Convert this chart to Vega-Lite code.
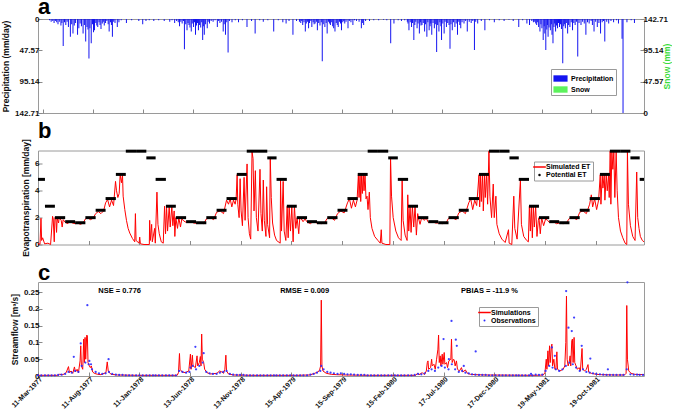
{
"$schema": "https://vega.github.io/schema/vega-lite/v6.json",
"background": "white",
"padding": {"left": 1, "top": -5, "right": 0, "bottom": 0},
"spacing": 37.5,
"bounds": "flush",
"resolve": {"scale": {"color": "independent"}, "legend": {"color": "independent"}},
"config": {
 "font": "Liberation Sans",
 "view": {"stroke": "#9a9a9a"},
 "axis": {"domain": false, "grid": false, "labelFont": "Liberation Sans", "labelFontWeight": "bold", "labelFontSize": 8, "labelColor": "#111", "titleFont": "Liberation Sans", "titleFontWeight": "bold", "titleFontSize": 8.5, "titleColor": "#111", "tickColor": "#8a8a8a", "tickSize": -4, "labelPadding": 3, "titlePadding": 4},
 "legend": {"labelFont": "Liberation Sans", "labelFontWeight": "bold", "labelFontSize": 7, "labelColor": "#000", "strokeColor": "#9a9a9a", "fillColor": "#ffffff", "padding": 2, "rowPadding": 0, "labelOffset": 3},
 "title": {"font": "Liberation Sans", "fontSize": 22, "fontWeight": "bold", "anchor": "start", "offset": -4, "baseline": "alphabetic", "frame": "group", "color": "#000"}
},
"datasets": {
 "p": [
  {"d":"1977-03-31","v":2},{"d":"1977-04-05","v":4},{"d":"1977-04-10","v":3},{"d":"1977-04-14","v":6},{"d":"1977-04-18","v":3},{"d":"1977-04-22","v":5},{"d":"1977-04-26","v":8},{"d":"1977-04-30","v":4},{"d":"1977-05-05","v":10},{"d":"1977-05-08","v":6},{"d":"1977-05-12","v":41},{"d":"1977-05-16","v":5},{"d":"1977-05-20","v":9},{"d":"1977-05-24","v":4},{"d":"1977-05-28","v":12},{"d":"1977-06-03","v":27},{"d":"1977-06-07","v":8},{"d":"1977-06-11","v":22},{"d":"1977-06-15","v":10},{"d":"1977-06-19","v":6},{"d":"1977-06-25","v":24},{"d":"1977-06-29","v":14},{"d":"1977-07-03","v":7},{"d":"1977-07-07","v":11},{"d":"1977-07-12","v":22},{"d":"1977-07-16","v":9},{"d":"1977-07-20","v":34},{"d":"1977-07-24","v":12},{"d":"1977-07-27","v":16},{"d":"1977-07-30","v":60},{"d":"1977-08-02","v":14},{"d":"1977-08-06","v":37},{"d":"1977-08-10","v":8},{"d":"1977-08-13","v":20},{"d":"1977-08-16","v":17},{"d":"1977-08-20","v":6},{"d":"1977-08-23","v":10},{"d":"1977-08-26","v":12},{"d":"1977-08-30","v":5},{"d":"1977-09-02","v":9},{"d":"1977-09-05","v":15},{"d":"1977-09-09","v":7},{"d":"1977-09-12","v":4},{"d":"1977-09-15","v":10},{"d":"1977-09-19","v":6},{"d":"1977-09-23","v":3},{"d":"1977-09-27","v":8},{"d":"1977-09-30","v":19},{"d":"1977-10-04","v":5},{"d":"1977-10-07","v":9},{"d":"1977-10-10","v":27},{"d":"1977-10-14","v":4},{"d":"1977-10-18","v":6},{"d":"1977-10-25","v":12},{"d":"1977-10-30","v":5},{"d":"1977-11-06","v":2},{"d":"1977-11-22","v":6},{"d":"1977-12-08","v":2},{"d":"1977-12-30","v":3},
  {"d":"1978-01-11","v":8},{"d":"1978-01-21","v":3},{"d":"1978-01-31","v":2},{"d":"1978-02-14","v":3},{"d":"1978-03-01","v":2},{"d":"1978-03-18","v":3},{"d":"1978-04-04","v":4},{"d":"1978-04-11","v":2},{"d":"1978-04-19","v":6},{"d":"1978-04-25","v":3},{"d":"1978-04-30","v":5},{"d":"1978-05-04","v":11},{"d":"1978-05-08","v":4},{"d":"1978-05-12","v":7},{"d":"1978-05-16","v":3},{"d":"1978-05-19","v":46},{"d":"1978-05-23","v":8},{"d":"1978-05-27","v":17},{"d":"1978-05-30","v":6},{"d":"1978-06-02","v":9},{"d":"1978-06-05","v":13},{"d":"1978-06-09","v":19},{"d":"1978-06-12","v":7},{"d":"1978-06-16","v":12},{"d":"1978-06-19","v":5},{"d":"1978-06-22","v":24},{"d":"1978-06-25","v":10},{"d":"1978-06-28","v":6},{"d":"1978-07-01","v":17},{"d":"1978-07-04","v":9},{"d":"1978-07-08","v":13},{"d":"1978-07-11","v":5},{"d":"1978-07-14","v":32},{"d":"1978-07-17","v":11},{"d":"1978-07-19","v":24},{"d":"1978-07-23","v":8},{"d":"1978-07-28","v":14},{"d":"1978-07-31","v":4},{"d":"1978-08-04","v":7},{"d":"1978-08-09","v":3},{"d":"1978-08-15","v":4},{"d":"1978-08-21","v":2},{"d":"1978-08-28","v":12},{"d":"1978-09-01","v":3},{"d":"1978-09-05","v":6},{"d":"1978-09-10","v":4},{"d":"1978-09-15","v":19},{"d":"1978-09-18","v":8},{"d":"1978-09-22","v":24},{"d":"1978-09-26","v":5},{"d":"1978-09-30","v":51},{"d":"1978-10-04","v":3},{"d":"1978-10-12","v":5},{"d":"1978-10-22","v":2},{"d":"1978-11-01","v":5},{"d":"1978-11-13","v":2},{"d":"1978-11-27","v":12},{"d":"1978-12-11","v":3},{"d":"1978-12-22","v":22},
  {"d":"1979-01-05","v":2},{"d":"1979-01-16","v":4},{"d":"1979-01-30","v":2},{"d":"1979-02-17","v":19},{"d":"1979-03-03","v":2},{"d":"1979-03-17","v":5},{"d":"1979-03-27","v":7},{"d":"1979-04-05","v":3},{"d":"1979-04-17","v":24},{"d":"1979-04-28","v":3},{"d":"1979-05-07","v":4},{"d":"1979-05-11","v":6},{"d":"1979-05-14","v":3},{"d":"1979-05-17","v":9},{"d":"1979-05-21","v":5},{"d":"1979-05-25","v":19},{"d":"1979-05-28","v":7},{"d":"1979-06-01","v":4},{"d":"1979-06-04","v":14},{"d":"1979-06-07","v":6},{"d":"1979-06-11","v":3},{"d":"1979-06-14","v":12},{"d":"1979-06-18","v":5},{"d":"1979-06-21","v":8},{"d":"1979-06-24","v":7},{"d":"1979-06-28","v":4},{"d":"1979-07-01","v":17},{"d":"1979-07-05","v":6},{"d":"1979-07-09","v":10},{"d":"1979-07-13","v":5},{"d":"1979-07-16","v":64},{"d":"1979-07-19","v":8},{"d":"1979-07-24","v":12},{"d":"1979-07-28","v":6},{"d":"1979-07-31","v":22},{"d":"1979-08-04","v":4},{"d":"1979-08-07","v":7},{"d":"1979-08-10","v":9},{"d":"1979-08-14","v":5},{"d":"1979-08-17","v":11},{"d":"1979-08-20","v":14},{"d":"1979-08-24","v":19},{"d":"1979-08-28","v":6},{"d":"1979-08-31","v":9},{"d":"1979-09-03","v":12},{"d":"1979-09-07","v":4},{"d":"1979-09-10","v":7},{"d":"1979-09-13","v":17},{"d":"1979-09-17","v":5},{"d":"1979-09-20","v":3},{"d":"1979-09-23","v":7},{"d":"1979-09-27","v":4},{"d":"1979-10-03","v":14},{"d":"1979-10-07","v":3},{"d":"1979-10-12","v":5},{"d":"1979-10-18","v":9},{"d":"1979-10-23","v":2},{"d":"1979-10-29","v":3},{"d":"1979-11-06","v":4},{"d":"1979-11-13","v":14},{"d":"1979-11-17","v":6},{"d":"1979-11-20","v":9},{"d":"1979-11-26","v":3},{"d":"1979-12-08","v":3},{"d":"1979-12-21","v":2},
  {"d":"1980-01-05","v":2},{"d":"1980-01-20","v":1},{"d":"1980-01-30","v":2},{"d":"1980-02-11","v":37},{"d":"1980-02-21","v":7},{"d":"1980-03-05","v":2},{"d":"1980-03-15","v":3},{"d":"1980-03-25","v":2},{"d":"1980-04-02","v":4},{"d":"1980-04-04","v":7},{"d":"1980-04-07","v":17},{"d":"1980-04-11","v":5},{"d":"1980-04-15","v":12},{"d":"1980-04-18","v":6},{"d":"1980-04-22","v":32},{"d":"1980-04-25","v":9},{"d":"1980-04-28","v":4},{"d":"1980-05-02","v":14},{"d":"1980-05-05","v":7},{"d":"1980-05-09","v":22},{"d":"1980-05-12","v":5},{"d":"1980-05-14","v":10},{"d":"1980-05-17","v":9},{"d":"1980-05-21","v":6},{"d":"1980-05-25","v":19},{"d":"1980-05-28","v":8},{"d":"1980-06-01","v":27},{"d":"1980-06-04","v":5},{"d":"1980-06-08","v":17},{"d":"1980-06-11","v":11},{"d":"1980-06-13","v":7},{"d":"1980-06-16","v":24},{"d":"1980-06-20","v":6},{"d":"1980-06-24","v":14},{"d":"1980-06-27","v":8},{"d":"1980-07-01","v":50},{"d":"1980-07-04","v":9},{"d":"1980-07-08","v":19},{"d":"1980-07-11","v":5},{"d":"1980-07-14","v":11},{"d":"1980-07-16","v":32},{"d":"1980-07-20","v":7},{"d":"1980-07-24","v":22},{"d":"1980-07-27","v":4},{"d":"1980-07-31","v":12},{"d":"1980-08-04","v":6},{"d":"1980-08-08","v":9},{"d":"1980-08-11","v":45},{"d":"1980-08-14","v":8},{"d":"1980-08-18","v":17},{"d":"1980-08-22","v":5},{"d":"1980-08-26","v":12},{"d":"1980-08-30","v":7},{"d":"1980-09-03","v":24},{"d":"1980-09-07","v":4},{"d":"1980-09-10","v":9},{"d":"1980-09-13","v":14},{"d":"1980-09-17","v":5},{"d":"1980-09-23","v":7},{"d":"1980-09-28","v":3},{"d":"1980-10-03","v":19},{"d":"1980-10-09","v":4},{"d":"1980-10-15","v":6},{"d":"1980-10-20","v":3},{"d":"1980-10-25","v":47},{"d":"1980-10-29","v":4},{"d":"1980-11-04","v":7},{"d":"1980-11-15","v":3},{"d":"1980-11-26","v":17},{"d":"1980-12-10","v":2},{"d":"1980-12-25","v":5},
  {"d":"1981-01-09","v":2},{"d":"1981-01-24","v":3},{"d":"1981-02-08","v":1},{"d":"1981-02-21","v":3},{"d":"1981-03-10","v":12},{"d":"1981-03-22","v":2},{"d":"1981-04-04","v":7},{"d":"1981-04-12","v":9},{"d":"1981-04-19","v":3},{"d":"1981-04-24","v":5},{"d":"1981-04-28","v":4},{"d":"1981-05-01","v":7},{"d":"1981-05-04","v":9},{"d":"1981-05-07","v":5},{"d":"1981-05-10","v":12},{"d":"1981-05-14","v":19},{"d":"1981-05-17","v":8},{"d":"1981-05-20","v":14},{"d":"1981-05-24","v":32},{"d":"1981-05-27","v":11},{"d":"1981-05-29","v":22},{"d":"1981-06-01","v":47},{"d":"1981-06-04","v":16},{"d":"1981-06-06","v":9},{"d":"1981-06-08","v":27},{"d":"1981-06-11","v":13},{"d":"1981-06-15","v":17},{"d":"1981-06-18","v":8},{"d":"1981-06-20","v":24},{"d":"1981-06-23","v":37},{"d":"1981-06-26","v":12},{"d":"1981-06-28","v":7},{"d":"1981-07-01","v":19},{"d":"1981-07-04","v":10},{"d":"1981-07-07","v":14},{"d":"1981-07-10","v":6},{"d":"1981-07-13","v":12},{"d":"1981-07-16","v":8},{"d":"1981-07-19","v":15},{"d":"1981-07-23","v":67},{"d":"1981-07-26","v":11},{"d":"1981-07-28","v":8},{"d":"1981-07-31","v":14},{"d":"1981-08-03","v":6},{"d":"1981-08-07","v":22},{"d":"1981-08-10","v":9},{"d":"1981-08-14","v":12},{"d":"1981-08-18","v":5},{"d":"1981-08-22","v":17},{"d":"1981-08-26","v":6},{"d":"1981-08-30","v":9},{"d":"1981-09-03","v":4},{"d":"1981-09-07","v":57},{"d":"1981-09-11","v":6},{"d":"1981-09-17","v":9},{"d":"1981-09-22","v":4},{"d":"1981-09-27","v":7},{"d":"1981-10-02","v":24},{"d":"1981-10-07","v":5},{"d":"1981-10-12","v":7},{"d":"1981-10-18","v":3},{"d":"1981-10-22","v":9},{"d":"1981-10-27","v":19},{"d":"1981-11-01","v":4},{"d":"1981-11-06","v":12},{"d":"1981-11-11","v":6},{"d":"1981-11-16","v":22},{"d":"1981-11-21","v":5},{"d":"1981-11-25","v":3},{"d":"1981-11-29","v":34},{"d":"1981-12-05","v":4},{"d":"1981-12-11","v":7},{"d":"1981-12-18","v":3},{"d":"1981-12-26","v":5},
  {"d":"1982-01-04","v":2},{"d":"1982-01-10","v":7},{"d":"1982-01-21","v":30},{"d":"1982-01-24","v":142.71},{"d":"1982-02-05","v":5},{"d":"1982-02-18","v":2},{"d":"1982-02-28","v":6}
 ],
 "s": [{"d":"1977-06-01","v":0},{"d":"1980-06-01","v":0}],
 "et": [
  {"d":"1977-03-11","v":0.1},{"d":"1977-03-17","v":0},{"d":"1977-03-20","v":1.95},{"d":"1977-03-22","v":0.3},{"d":"1977-03-25","v":0.5},{"d":"1977-03-31","v":0.05},{"d":"1977-04-10","v":0.1},{"d":"1977-04-18","v":0},{"d":"1977-04-24","v":2.1},{"d":"1977-04-26","v":1.9},{"d":"1977-04-29","v":0.2},{"d":"1977-05-01","v":2.0},{"d":"1977-05-04","v":1.9},{"d":"1977-05-06","v":0.9},{"d":"1977-05-08","v":1.95},{"d":"1977-05-12","v":1.6},{"d":"1977-05-14","v":2.0},{"d":"1977-05-20","v":1.8},{"d":"1977-05-23","v":1.3},{"d":"1977-05-26","v":1.85},{"d":"1977-06-01","v":1.65},{"d":"1977-06-09","v":1.55},{"d":"1977-06-15","v":1.7},{"d":"1977-06-23","v":1.6},{"d":"1977-07-01","v":1.55},{"d":"1977-07-09","v":1.6},{"d":"1977-07-17","v":1.5},{"d":"1977-07-25","v":1.6},{"d":"1977-08-01","v":1.9},{"d":"1977-08-08","v":2.0},{"d":"1977-08-16","v":1.85},{"d":"1977-08-24","v":1.95},{"d":"1977-09-01","v":2.3},{"d":"1977-09-09","v":2.45},{"d":"1977-09-17","v":2.3},{"d":"1977-09-25","v":2.5},{"d":"1977-10-01","v":3.1},{"d":"1977-10-07","v":3.35},{"d":"1977-10-13","v":2.8},{"d":"1977-10-19","v":3.3},{"d":"1977-10-25","v":2.9},{"d":"1977-10-31","v":4.7},{"d":"1977-11-03","v":4.0},{"d":"1977-11-07","v":3.5},{"d":"1977-11-11","v":3.8},{"d":"1977-11-14","v":5.2},{"d":"1977-11-18","v":4.6},{"d":"1977-11-21","v":5.2},{"d":"1977-11-23","v":3.6},{"d":"1977-11-28","v":2.6},{"d":"1977-12-03","v":1.8},{"d":"1977-12-08","v":1.2},{"d":"1977-12-13","v":0.85},{"d":"1977-12-21","v":0.45},{"d":"1977-12-28","v":0.2},{"d":"1977-12-30","v":2.3},
  {"d":"1978-01-01","v":0.3},{"d":"1978-01-10","v":0.1},{"d":"1978-01-12","v":0.55},{"d":"1978-01-14","v":0.05},{"d":"1978-01-25","v":0},{"d":"1978-02-10","v":0},{"d":"1978-02-11","v":1.8},{"d":"1978-02-13","v":0.3},{"d":"1978-02-17","v":1.5},{"d":"1978-02-19","v":0.2},{"d":"1978-02-26","v":1.2},{"d":"1978-02-28","v":0.1},{"d":"1978-03-05","v":3.9},{"d":"1978-03-08","v":1.5},{"d":"1978-03-12","v":0.8},{"d":"1978-03-18","v":0.2},{"d":"1978-03-24","v":0.1},{"d":"1978-03-28","v":2.85},{"d":"1978-03-31","v":0.8},{"d":"1978-04-03","v":2.85},{"d":"1978-04-06","v":1.0},{"d":"1978-04-11","v":2.85},{"d":"1978-04-14","v":1.3},{"d":"1978-04-19","v":2.85},{"d":"1978-04-22","v":1.4},{"d":"1978-04-26","v":2.5},{"d":"1978-04-28","v":0.6},{"d":"1978-05-01","v":2.0},{"d":"1978-05-06","v":1.2},{"d":"1978-05-10","v":2.0},{"d":"1978-05-15","v":1.3},{"d":"1978-05-19","v":1.9},{"d":"1978-05-25","v":1.75},{"d":"1978-06-01","v":1.65},{"d":"1978-06-14","v":1.7},{"d":"1978-06-24","v":1.6},{"d":"1978-07-01","v":1.58},{"d":"1978-07-14","v":1.62},{"d":"1978-07-24","v":1.55},{"d":"1978-08-01","v":1.9},{"d":"1978-08-13","v":2.0},{"d":"1978-08-23","v":1.85},{"d":"1978-09-01","v":2.4},{"d":"1978-09-12","v":2.5},{"d":"1978-09-22","v":2.3},{"d":"1978-10-01","v":3.3},{"d":"1978-10-07","v":3.0},{"d":"1978-10-12","v":3.4},{"d":"1978-10-17","v":2.8},{"d":"1978-10-22","v":3.3},{"d":"1978-10-27","v":3.0},{"d":"1978-10-30","v":3.4},{"d":"1978-11-02","v":5.2},{"d":"1978-11-04","v":3.0},{"d":"1978-11-08","v":2.0},{"d":"1978-11-11","v":4.9},{"d":"1978-11-14","v":2.5},{"d":"1978-11-18","v":1.4},{"d":"1978-11-23","v":5.0},{"d":"1978-11-26","v":1.8},{"d":"1978-12-02","v":6.0},{"d":"1978-12-05","v":2.0},{"d":"1978-12-09","v":0.8},{"d":"1978-12-13","v":0.4},{"d":"1978-12-17","v":6.9},{"d":"1978-12-20","v":6.4},{"d":"1978-12-23","v":2.5},{"d":"1978-12-27","v":5.5},{"d":"1978-12-30","v":2.0},
  {"d":"1979-01-04","v":1.0},{"d":"1979-01-10","v":5.6},{"d":"1979-01-13","v":2.3},{"d":"1979-01-17","v":1.0},{"d":"1979-01-20","v":4.8},{"d":"1979-01-23","v":1.8},{"d":"1979-01-28","v":0.6},{"d":"1979-01-30","v":4.3},{"d":"1979-02-02","v":1.5},{"d":"1979-02-08","v":0.5},{"d":"1979-02-10","v":6.5},{"d":"1979-02-13","v":3.5},{"d":"1979-02-17","v":1.6},{"d":"1979-02-23","v":0.7},{"d":"1979-03-01","v":0.3},{"d":"1979-03-12","v":0.1},{"d":"1979-03-13","v":4.8},{"d":"1979-03-16","v":1.0},{"d":"1979-03-21","v":4.7},{"d":"1979-03-24","v":1.0},{"d":"1979-03-29","v":0.3},{"d":"1979-04-02","v":2.85},{"d":"1979-04-05","v":0.5},{"d":"1979-04-08","v":2.85},{"d":"1979-04-12","v":1.0},{"d":"1979-04-16","v":2.8},{"d":"1979-04-20","v":0.2},{"d":"1979-04-24","v":2.85},{"d":"1979-04-28","v":1.2},{"d":"1979-05-02","v":2.0},{"d":"1979-05-07","v":0.8},{"d":"1979-05-10","v":2.0},{"d":"1979-05-15","v":1.9},{"d":"1979-05-20","v":1.7},{"d":"1979-05-26","v":1.9},{"d":"1979-06-01","v":1.68},{"d":"1979-06-11","v":1.55},{"d":"1979-06-19","v":1.7},{"d":"1979-07-01","v":1.6},{"d":"1979-07-14","v":1.55},{"d":"1979-07-24","v":1.62},{"d":"1979-08-01","v":1.95},{"d":"1979-08-13","v":2.0},{"d":"1979-08-23","v":1.8},{"d":"1979-09-01","v":2.3},{"d":"1979-09-11","v":2.5},{"d":"1979-09-21","v":2.35},{"d":"1979-10-01","v":3.1},{"d":"1979-10-07","v":3.4},{"d":"1979-10-13","v":2.7},{"d":"1979-10-19","v":3.3},{"d":"1979-10-25","v":2.8},{"d":"1979-10-30","v":3.3},{"d":"1979-11-03","v":5.2},{"d":"1979-11-05","v":3.5},{"d":"1979-11-08","v":5.2},{"d":"1979-11-10","v":3.2},{"d":"1979-11-13","v":5.2},{"d":"1979-11-15","v":3.8},{"d":"1979-11-18","v":5.2},{"d":"1979-11-20","v":4.0},{"d":"1979-11-23","v":5.2},{"d":"1979-11-26","v":3.4},{"d":"1979-11-29","v":3.6},{"d":"1979-12-02","v":2.6},{"d":"1979-12-06","v":3.9},{"d":"1979-12-09","v":2.0},{"d":"1979-12-14","v":1.2},{"d":"1979-12-22","v":0.6},
  {"d":"1980-01-01","v":0.3},{"d":"1980-01-08","v":0.1},{"d":"1980-01-11","v":1.1},{"d":"1980-01-13","v":0.1},{"d":"1980-01-25","v":0},{"d":"1980-02-06","v":0},{"d":"1980-02-08","v":6.5},{"d":"1980-02-11","v":3.6},{"d":"1980-02-16","v":2.0},{"d":"1980-02-24","v":1.0},{"d":"1980-03-03","v":0.5},{"d":"1980-03-11","v":0.3},{"d":"1980-03-14","v":4.9},{"d":"1980-03-17","v":1.8},{"d":"1980-03-23","v":0.7},{"d":"1980-03-29","v":0.3},{"d":"1980-03-31","v":3.7},{"d":"1980-04-03","v":1.0},{"d":"1980-04-07","v":2.85},{"d":"1980-04-10","v":0.9},{"d":"1980-04-14","v":2.85},{"d":"1980-04-18","v":1.3},{"d":"1980-04-22","v":2.85},{"d":"1980-04-26","v":0.7},{"d":"1980-04-30","v":2.3},{"d":"1980-05-02","v":2.0},{"d":"1980-05-07","v":1.5},{"d":"1980-05-12","v":2.0},{"d":"1980-05-19","v":1.8},{"d":"1980-05-26","v":1.95},{"d":"1980-06-01","v":1.65},{"d":"1980-06-13","v":1.7},{"d":"1980-06-23","v":1.6},{"d":"1980-07-01","v":1.6},{"d":"1980-07-13","v":1.55},{"d":"1980-07-25","v":1.62},{"d":"1980-08-01","v":1.95},{"d":"1980-08-12","v":2.0},{"d":"1980-08-24","v":1.85},{"d":"1980-09-01","v":2.35},{"d":"1980-09-11","v":2.5},{"d":"1980-09-21","v":2.3},{"d":"1980-10-01","v":3.1},{"d":"1980-10-07","v":3.4},{"d":"1980-10-13","v":2.6},{"d":"1980-10-19","v":3.3},{"d":"1980-10-25","v":2.9},{"d":"1980-11-01","v":5.2},{"d":"1980-11-03","v":2.8},{"d":"1980-11-06","v":5.2},{"d":"1980-11-08","v":3.2},{"d":"1980-11-12","v":5.2},{"d":"1980-11-14","v":2.5},{"d":"1980-11-18","v":5.2},{"d":"1980-11-20","v":3.5},{"d":"1980-11-24","v":5.2},{"d":"1980-11-27","v":3.0},{"d":"1980-12-01","v":6.95},{"d":"1980-12-04","v":3.6},{"d":"1980-12-09","v":2.0},{"d":"1980-12-14","v":4.5},{"d":"1980-12-17","v":2.0},{"d":"1980-12-22","v":3.6},{"d":"1980-12-25","v":1.5},
  {"d":"1981-01-01","v":0.8},{"d":"1981-01-09","v":0.4},{"d":"1981-01-19","v":0.15},{"d":"1981-01-29","v":1.1},{"d":"1981-01-31","v":0.1},{"d":"1981-02-08","v":0},{"d":"1981-02-14","v":3.6},{"d":"1981-02-17","v":1.2},{"d":"1981-02-24","v":0.4},{"d":"1981-03-06","v":4.8},{"d":"1981-03-09","v":1.5},{"d":"1981-03-16","v":0.6},{"d":"1981-03-25","v":0.3},{"d":"1981-03-30","v":0.2},{"d":"1981-04-02","v":2.85},{"d":"1981-04-05","v":1.0},{"d":"1981-04-08","v":2.85},{"d":"1981-04-11","v":0.5},{"d":"1981-04-14","v":2.85},{"d":"1981-04-17","v":1.3},{"d":"1981-04-21","v":2.85},{"d":"1981-04-25","v":0.6},{"d":"1981-04-29","v":1.8},{"d":"1981-05-01","v":2.0},{"d":"1981-05-05","v":0.8},{"d":"1981-05-09","v":2.0},{"d":"1981-05-15","v":1.4},{"d":"1981-05-21","v":1.9},{"d":"1981-05-27","v":1.8},{"d":"1981-06-01","v":1.65},{"d":"1981-06-13","v":1.7},{"d":"1981-06-23","v":1.55},{"d":"1981-07-01","v":1.6},{"d":"1981-07-13","v":1.55},{"d":"1981-07-23","v":1.62},{"d":"1981-08-01","v":1.95},{"d":"1981-08-12","v":2.0},{"d":"1981-08-23","v":1.85},{"d":"1981-09-01","v":2.4},{"d":"1981-09-11","v":2.5},{"d":"1981-09-21","v":2.3},{"d":"1981-10-01","v":3.0},{"d":"1981-10-06","v":3.7},{"d":"1981-10-10","v":2.8},{"d":"1981-10-16","v":3.4},{"d":"1981-10-22","v":2.6},{"d":"1981-10-28","v":3.3},{"d":"1981-11-02","v":5.2},{"d":"1981-11-04","v":3.0},{"d":"1981-11-08","v":5.2},{"d":"1981-11-10","v":4.2},{"d":"1981-11-14","v":5.2},{"d":"1981-11-16","v":3.3},{"d":"1981-11-20","v":5.2},{"d":"1981-11-23","v":4.0},{"d":"1981-11-27","v":5.2},{"d":"1981-11-29","v":3.5},{"d":"1981-12-02","v":6.95},{"d":"1981-12-04","v":3.0},{"d":"1981-12-07","v":6.95},{"d":"1981-12-10","v":5.6},{"d":"1981-12-13","v":6.95},{"d":"1981-12-16","v":3.5},{"d":"1981-12-20","v":6.9},{"d":"1981-12-23","v":4.0},{"d":"1981-12-27","v":2.0},
  {"d":"1982-01-02","v":1.0},{"d":"1982-01-09","v":0.5},{"d":"1982-01-16","v":0.1},{"d":"1982-01-21","v":0},{"d":"1982-01-23","v":6.9},{"d":"1982-01-26","v":3.0},{"d":"1982-02-01","v":1.4},{"d":"1982-02-08","v":0.6},{"d":"1982-02-15","v":0.3},{"d":"1982-02-20","v":5.4},{"d":"1982-02-23","v":2.0},{"d":"1982-02-27","v":1.2},{"d":"1982-03-03","v":0.6},{"d":"1982-03-09","v":0.3},{"d":"1982-03-14","v":0.2}
 ],
 "pet": [
  {"d":"1977-03-11","e":"1977-04-01","v":4.85},{"d":"1977-04-01","e":"1977-05-01","v":2.85},{"d":"1977-05-01","e":"1977-06-01","v":2.0},{"d":"1977-06-01","e":"1977-07-01","v":1.7},{"d":"1977-07-01","e":"1977-08-01","v":1.62},{"d":"1977-08-01","e":"1977-09-01","v":2.0},{"d":"1977-09-01","e":"1977-10-01","v":2.55},{"d":"1977-10-01","e":"1977-11-01","v":3.42},{"d":"1977-11-01","e":"1977-12-01","v":5.22},{"d":"1977-12-01","e":"1978-01-01","v":6.95},
  {"d":"1978-01-01","e":"1978-02-01","v":6.95},{"d":"1978-02-01","e":"1978-03-01","v":6.45},{"d":"1978-03-01","e":"1978-04-01","v":4.85},{"d":"1978-04-01","e":"1978-05-01","v":2.85},{"d":"1978-05-01","e":"1978-06-01","v":2.0},{"d":"1978-06-01","e":"1978-07-01","v":1.7},{"d":"1978-07-01","e":"1978-08-01","v":1.62},{"d":"1978-08-01","e":"1978-09-01","v":2.0},{"d":"1978-09-01","e":"1978-10-01","v":2.55},{"d":"1978-10-01","e":"1978-11-01","v":3.42},{"d":"1978-11-01","e":"1978-12-01","v":5.22},{"d":"1978-12-01","e":"1979-01-01","v":6.95},
  {"d":"1979-01-01","e":"1979-02-01","v":6.95},{"d":"1979-02-01","e":"1979-03-01","v":6.45},{"d":"1979-03-01","e":"1979-04-01","v":4.85},{"d":"1979-04-01","e":"1979-05-01","v":2.85},{"d":"1979-05-01","e":"1979-06-01","v":2.0},{"d":"1979-06-01","e":"1979-07-01","v":1.7},{"d":"1979-07-01","e":"1979-08-01","v":1.62},{"d":"1979-08-01","e":"1979-09-01","v":2.0},{"d":"1979-09-01","e":"1979-10-01","v":2.55},{"d":"1979-10-01","e":"1979-11-01","v":3.42},{"d":"1979-11-01","e":"1979-12-01","v":5.22},{"d":"1979-12-01","e":"1980-01-01","v":6.95},
  {"d":"1980-01-01","e":"1980-02-01","v":6.95},{"d":"1980-02-01","e":"1980-03-01","v":6.45},{"d":"1980-03-01","e":"1980-04-01","v":4.85},{"d":"1980-04-01","e":"1980-05-01","v":2.85},{"d":"1980-05-01","e":"1980-06-01","v":2.0},{"d":"1980-06-01","e":"1980-07-01","v":1.7},{"d":"1980-07-01","e":"1980-08-01","v":1.62},{"d":"1980-08-01","e":"1980-09-01","v":2.0},{"d":"1980-09-01","e":"1980-10-01","v":2.55},{"d":"1980-10-01","e":"1980-11-01","v":3.42},{"d":"1980-11-01","e":"1980-12-01","v":5.22},{"d":"1980-12-01","e":"1981-01-01","v":6.95},
  {"d":"1981-01-01","e":"1981-02-01","v":6.95},{"d":"1981-02-01","e":"1981-03-01","v":6.45},{"d":"1981-03-01","e":"1981-04-01","v":4.85},{"d":"1981-04-01","e":"1981-05-01","v":2.85},{"d":"1981-05-01","e":"1981-06-01","v":2.0},{"d":"1981-06-01","e":"1981-07-01","v":1.7},{"d":"1981-07-01","e":"1981-08-01","v":1.62},{"d":"1981-08-01","e":"1981-09-01","v":2.0},{"d":"1981-09-01","e":"1981-10-01","v":2.55},{"d":"1981-10-01","e":"1981-11-01","v":3.42},{"d":"1981-11-01","e":"1981-12-01","v":5.22},{"d":"1981-12-01","e":"1982-01-01","v":6.95},
  {"d":"1982-01-01","e":"1982-02-01","v":6.95},{"d":"1982-02-01","e":"1982-03-01","v":6.45},{"d":"1982-03-01","e":"1982-03-14","v":4.85}
 ],
 "q": [
  {"d":"1977-03-11","v":0.002},{"d":"1977-05-10","v":0.002},{"d":"1977-05-15","v":0.005},{"d":"1977-05-25","v":0.004},{"d":"1977-06-04","v":0.01},{"d":"1977-06-11","v":0.028},{"d":"1977-06-14","v":0.01},{"d":"1977-06-19","v":0.015},{"d":"1977-06-24","v":0.008},{"d":"1977-06-29","v":0.027},{"d":"1977-07-02","v":0.012},{"d":"1977-07-07","v":0.02},{"d":"1977-07-11","v":0.01},{"d":"1977-07-16","v":0.045},{"d":"1977-07-18","v":0.09},{"d":"1977-07-20","v":0.03},{"d":"1977-07-24","v":0.02},{"d":"1977-07-27","v":0.11},{"d":"1977-07-29","v":0.04},{"d":"1977-07-31","v":0.115},{"d":"1977-08-02","v":0.05},{"d":"1977-08-05","v":0.122},{"d":"1977-08-07","v":0.12},{"d":"1977-08-09","v":0.04},{"d":"1977-08-13","v":0.03},{"d":"1977-08-16","v":0.025},{"d":"1977-08-19","v":0.03},{"d":"1977-08-23","v":0.012},{"d":"1977-08-28","v":0.008},{"d":"1977-09-07","v":0.005},{"d":"1977-09-17","v":0.004},{"d":"1977-10-02","v":0.01},{"d":"1977-10-06","v":0.042},{"d":"1977-10-09","v":0.015},{"d":"1977-10-17","v":0.005},{"d":"1977-11-06","v":0.003},
  {"d":"1978-01-05","v":0.002},{"d":"1978-05-05","v":0.002},{"d":"1978-05-09","v":0.01},{"d":"1978-05-12","v":0.067},{"d":"1978-05-14","v":0.02},{"d":"1978-05-20","v":0.012},{"d":"1978-05-30","v":0.01},{"d":"1978-06-09","v":0.015},{"d":"1978-06-14","v":0.065},{"d":"1978-06-16","v":0.02},{"d":"1978-06-20","v":0.062},{"d":"1978-06-22","v":0.03},{"d":"1978-06-29","v":0.025},{"d":"1978-07-04","v":0.06},{"d":"1978-07-06","v":0.03},{"d":"1978-07-11","v":0.04},{"d":"1978-07-14","v":0.058},{"d":"1978-07-16","v":0.03},{"d":"1978-07-18","v":0.125},{"d":"1978-07-20","v":0.05},{"d":"1978-07-24","v":0.04},{"d":"1978-07-27","v":0.02},{"d":"1978-08-03","v":0.01},{"d":"1978-08-13","v":0.006},{"d":"1978-09-02","v":0.008},{"d":"1978-09-10","v":0.015},{"d":"1978-09-17","v":0.012},{"d":"1978-09-22","v":0.008},{"d":"1978-09-26","v":0.02},{"d":"1978-09-29","v":0.062},{"d":"1978-10-01","v":0.015},{"d":"1978-10-07","v":0.006},{"d":"1978-10-22","v":0.003},{"d":"1978-12-21","v":0.002},
  {"d":"1979-04-30","v":0.002},{"d":"1979-06-09","v":0.003},{"d":"1979-06-24","v":0.008},{"d":"1979-07-04","v":0.012},{"d":"1979-07-09","v":0.018},{"d":"1979-07-12","v":0.03},{"d":"1979-07-14","v":0.226},{"d":"1979-07-16","v":0.03},{"d":"1979-07-19","v":0.015},{"d":"1979-07-29","v":0.008},{"d":"1979-08-13","v":0.005},{"d":"1979-08-28","v":0.004},{"d":"1979-09-27","v":0.003},{"d":"1979-12-06","v":0.002},
  {"d":"1980-04-24","v":0.002},{"d":"1980-04-29","v":0.008},{"d":"1980-05-04","v":0.004},{"d":"1980-05-14","v":0.01},{"d":"1980-05-20","v":0.004},{"d":"1980-05-26","v":0.015},{"d":"1980-05-29","v":0.04},{"d":"1980-05-31","v":0.045},{"d":"1980-06-02","v":0.02},{"d":"1980-06-08","v":0.025},{"d":"1980-06-11","v":0.05},{"d":"1980-06-13","v":0.03},{"d":"1980-06-18","v":0.035},{"d":"1980-06-22","v":0.02},{"d":"1980-06-26","v":0.05},{"d":"1980-06-30","v":0.08},{"d":"1980-07-02","v":0.122},{"d":"1980-07-04","v":0.04},{"d":"1980-07-07","v":0.06},{"d":"1980-07-09","v":0.03},{"d":"1980-07-13","v":0.065},{"d":"1980-07-15","v":0.035},{"d":"1980-07-19","v":0.07},{"d":"1980-07-21","v":0.035},{"d":"1980-07-26","v":0.04},{"d":"1980-07-29","v":0.025},{"d":"1980-08-02","v":0.045},{"d":"1980-08-08","v":0.05},{"d":"1980-08-10","v":0.11},{"d":"1980-08-12","v":0.04},{"d":"1980-08-16","v":0.05},{"d":"1980-08-18","v":0.048},{"d":"1980-08-21","v":0.03},{"d":"1980-08-25","v":0.045},{"d":"1980-08-28","v":0.02},{"d":"1980-09-03","v":0.015},{"d":"1980-09-09","v":0.025},{"d":"1980-09-13","v":0.012},{"d":"1980-09-21","v":0.018},{"d":"1980-09-27","v":0.008},{"d":"1980-10-06","v":0.005},{"d":"1980-10-21","v":0.004},{"d":"1980-11-20","v":0.003},
  {"d":"1981-04-19","v":0.002},{"d":"1981-05-14","v":0.003},{"d":"1981-05-19","v":0.01},{"d":"1981-05-23","v":0.05},{"d":"1981-05-25","v":0.02},{"d":"1981-05-28","v":0.075},{"d":"1981-05-30","v":0.03},{"d":"1981-06-02","v":0.09},{"d":"1981-06-04","v":0.04},{"d":"1981-06-07","v":0.085},{"d":"1981-06-09","v":0.095},{"d":"1981-06-11","v":0.03},{"d":"1981-06-15","v":0.05},{"d":"1981-06-18","v":0.02},{"d":"1981-06-21","v":0.02},{"d":"1981-06-24","v":0.072},{"d":"1981-06-26","v":0.02},{"d":"1981-07-03","v":0.015},{"d":"1981-07-13","v":0.02},{"d":"1981-07-18","v":0.03},{"d":"1981-07-21","v":0.1},{"d":"1981-07-23","v":0.238},{"d":"1981-07-25","v":0.05},{"d":"1981-07-28","v":0.03},{"d":"1981-07-31","v":0.04},{"d":"1981-08-03","v":0.06},{"d":"1981-08-05","v":0.03},{"d":"1981-08-08","v":0.105},{"d":"1981-08-10","v":0.11},{"d":"1981-08-12","v":0.04},{"d":"1981-08-15","v":0.115},{"d":"1981-08-17","v":0.04},{"d":"1981-08-21","v":0.03},{"d":"1981-08-25","v":0.02},{"d":"1981-08-30","v":0.025},{"d":"1981-09-03","v":0.015},{"d":"1981-09-08","v":0.082},{"d":"1981-09-10","v":0.02},{"d":"1981-09-16","v":0.015},{"d":"1981-09-21","v":0.02},{"d":"1981-09-26","v":0.034},{"d":"1981-09-28","v":0.012},{"d":"1981-10-06","v":0.008},{"d":"1981-10-21","v":0.005},{"d":"1981-11-05","v":0.004},{"d":"1981-12-15","v":0.003},
  {"d":"1982-01-14","v":0.003},{"d":"1982-01-19","v":0.008},{"d":"1982-01-21","v":0.21},{"d":"1982-01-23","v":0.05},{"d":"1982-01-27","v":0.015},{"d":"1982-02-03","v":0.008},{"d":"1982-02-13","v":0.005},{"d":"1982-03-14","v":0.004}
 ],
 "o": [
  {"d":"1977-03-11","v":0.002},{"d":"1977-03-21","v":0.002},{"d":"1977-04-01","v":0.002},{"d":"1977-04-11","v":0.002},{"d":"1977-04-21","v":0.002},{"d":"1977-05-01","v":0.002},{"d":"1977-05-11","v":0.003},{"d":"1977-05-21","v":0.004},{"d":"1977-06-01","v":0.006},{"d":"1977-06-11","v":0.012},{"d":"1977-06-21","v":0.01},{"d":"1977-07-01","v":0.015},{"d":"1977-07-11","v":0.012},{"d":"1977-07-21","v":0.03},{"d":"1977-08-01","v":0.04},{"d":"1977-08-11","v":0.035},{"d":"1977-08-21","v":0.02},{"d":"1977-09-01","v":0.012},{"d":"1977-09-11","v":0.008},{"d":"1977-09-21","v":0.006},{"d":"1977-10-01","v":0.008},{"d":"1977-10-11","v":0.012},{"d":"1977-10-21","v":0.006},{"d":"1977-11-01","v":0.004},{"d":"1977-11-11","v":0.003},{"d":"1977-11-21","v":0.003},{"d":"1977-12-01","v":0.002},{"d":"1977-12-11","v":0.002},{"d":"1977-12-21","v":0.002},
  {"d":"1977-06-27","v":0.057},{"d":"1977-07-18","v":0.097},{"d":"1977-08-07","v":0.211},{"d":"1977-08-13","v":0.045},{"d":"1977-08-18","v":0.035},{"d":"1977-10-10","v":0.05},
  {"d":"1978-01-01","v":0.002},{"d":"1978-01-11","v":0.002},{"d":"1978-01-21","v":0.002},{"d":"1978-02-01","v":0.002},{"d":"1978-02-11","v":0.002},{"d":"1978-02-21","v":0.002},{"d":"1978-03-01","v":0.002},{"d":"1978-03-11","v":0.002},{"d":"1978-03-21","v":0.002},{"d":"1978-04-01","v":0.002},{"d":"1978-04-11","v":0.002},{"d":"1978-04-21","v":0.002},{"d":"1978-05-01","v":0.002},{"d":"1978-05-11","v":0.015},{"d":"1978-05-21","v":0.012},{"d":"1978-06-01","v":0.01},{"d":"1978-06-11","v":0.012},{"d":"1978-06-21","v":0.03},{"d":"1978-07-01","v":0.02},{"d":"1978-07-11","v":0.03},{"d":"1978-07-21","v":0.04},{"d":"1978-08-01","v":0.012},{"d":"1978-08-11","v":0.008},{"d":"1978-08-21","v":0.006},{"d":"1978-09-01","v":0.006},{"d":"1978-09-11","v":0.01},{"d":"1978-09-21","v":0.012},{"d":"1978-10-01","v":0.015},{"d":"1978-10-11","v":0.006},{"d":"1978-10-21","v":0.004},{"d":"1978-11-01","v":0.003},{"d":"1978-11-11","v":0.003},{"d":"1978-11-21","v":0.003},{"d":"1978-12-01","v":0.002},{"d":"1978-12-11","v":0.002},{"d":"1978-12-21","v":0.002},
  {"d":"1978-06-29","v":0.087},{"d":"1978-07-24","v":0.068},{"d":"1978-06-14","v":0.025},
  {"d":"1979-01-01","v":0.002},{"d":"1979-01-11","v":0.002},{"d":"1979-01-21","v":0.002},{"d":"1979-02-01","v":0.002},{"d":"1979-02-11","v":0.002},{"d":"1979-02-21","v":0.002},{"d":"1979-03-01","v":0.002},{"d":"1979-03-11","v":0.002},{"d":"1979-03-21","v":0.002},{"d":"1979-04-01","v":0.002},{"d":"1979-04-11","v":0.002},{"d":"1979-04-21","v":0.002},{"d":"1979-05-01","v":0.002},{"d":"1979-05-11","v":0.002},{"d":"1979-05-21","v":0.002},{"d":"1979-06-01","v":0.002},{"d":"1979-06-11","v":0.004},{"d":"1979-06-21","v":0.006},{"d":"1979-07-01","v":0.01},{"d":"1979-07-11","v":0.015},{"d":"1979-07-21","v":0.02},{"d":"1979-08-01","v":0.012},{"d":"1979-08-11","v":0.01},{"d":"1979-08-21","v":0.008},{"d":"1979-09-01","v":0.006},{"d":"1979-09-11","v":0.008},{"d":"1979-09-21","v":0.006},{"d":"1979-10-01","v":0.005},{"d":"1979-10-11","v":0.005},{"d":"1979-10-21","v":0.004},{"d":"1979-11-01","v":0.003},{"d":"1979-11-11","v":0.003},{"d":"1979-11-21","v":0.003},{"d":"1979-12-01","v":0.002},{"d":"1979-12-11","v":0.002},{"d":"1979-12-21","v":0.002},
  {"d":"1979-07-14","v":0.03},
  {"d":"1980-01-01","v":0.002},{"d":"1980-01-11","v":0.002},{"d":"1980-01-21","v":0.002},{"d":"1980-02-01","v":0.002},{"d":"1980-02-11","v":0.002},{"d":"1980-02-21","v":0.002},{"d":"1980-03-01","v":0.002},{"d":"1980-03-11","v":0.002},{"d":"1980-03-21","v":0.002},{"d":"1980-04-01","v":0.002},{"d":"1980-04-11","v":0.002},{"d":"1980-04-21","v":0.003},{"d":"1980-05-01","v":0.006},{"d":"1980-05-11","v":0.005},{"d":"1980-05-21","v":0.008},{"d":"1980-06-01","v":0.015},{"d":"1980-06-11","v":0.02},{"d":"1980-06-21","v":0.015},{"d":"1980-07-01","v":0.025},{"d":"1980-07-11","v":0.03},{"d":"1980-07-21","v":0.025},{"d":"1980-08-01","v":0.02},{"d":"1980-08-11","v":0.035},{"d":"1980-08-21","v":0.02},{"d":"1980-09-01","v":0.012},{"d":"1980-09-11","v":0.015},{"d":"1980-09-21","v":0.01},{"d":"1980-10-01","v":0.008},{"d":"1980-10-11","v":0.005},{"d":"1980-10-21","v":0.004},{"d":"1980-11-01","v":0.003},{"d":"1980-11-11","v":0.003},{"d":"1980-11-21","v":0.003},{"d":"1980-12-01","v":0.002},{"d":"1980-12-11","v":0.002},{"d":"1980-12-21","v":0.002},
  {"d":"1980-07-17","v":0.11},{"d":"1980-08-10","v":0.164},{"d":"1980-08-23","v":0.108},{"d":"1980-08-26","v":0.09},{"d":"1980-10-22","v":0.073},{"d":"1980-08-02","v":0.05},{"d":"1980-09-16","v":0.03},
  {"d":"1981-01-01","v":0.002},{"d":"1981-01-11","v":0.002},{"d":"1981-01-21","v":0.002},{"d":"1981-02-01","v":0.002},{"d":"1981-02-11","v":0.002},{"d":"1981-02-21","v":0.002},{"d":"1981-03-01","v":0.002},{"d":"1981-03-11","v":0.002},{"d":"1981-03-21","v":0.002},{"d":"1981-04-01","v":0.002},{"d":"1981-04-11","v":0.002},{"d":"1981-04-21","v":0.004},{"d":"1981-05-01","v":0.003},{"d":"1981-05-11","v":0.004},{"d":"1981-05-21","v":0.015},{"d":"1981-06-01","v":0.03},{"d":"1981-06-11","v":0.025},{"d":"1981-06-21","v":0.02},{"d":"1981-07-01","v":0.015},{"d":"1981-07-11","v":0.02},{"d":"1981-07-21","v":0.03},{"d":"1981-08-01","v":0.04},{"d":"1981-08-11","v":0.035},{"d":"1981-08-21","v":0.025},{"d":"1981-09-01","v":0.015},{"d":"1981-09-11","v":0.02},{"d":"1981-09-21","v":0.012},{"d":"1981-10-01","v":0.01},{"d":"1981-10-11","v":0.008},{"d":"1981-10-21","v":0.006},{"d":"1981-11-01","v":0.005},{"d":"1981-11-11","v":0.004},{"d":"1981-11-21","v":0.003},{"d":"1981-12-01","v":0.003},{"d":"1981-12-11","v":0.003},{"d":"1981-12-21","v":0.003},
  {"d":"1981-04-07","v":0.006},{"d":"1981-06-09","v":0.085},{"d":"1981-06-18","v":0.06},{"d":"1981-07-22","v":0.253},{"d":"1981-07-29","v":0.144},{"d":"1981-08-08","v":0.134},{"d":"1981-08-15","v":0.174},{"d":"1981-09-07","v":0.09},{"d":"1981-10-03","v":0.052},{"d":"1981-11-25","v":0.02},
  {"d":"1982-01-01","v":0.003},{"d":"1982-01-11","v":0.003},{"d":"1982-01-21","v":0.02},{"d":"1982-02-01","v":0.005},{"d":"1982-02-11","v":0.004},{"d":"1982-02-21","v":0.004},{"d":"1982-03-01","v":0.003},{"d":"1982-03-11","v":0.003},{"d":"1982-01-23","v":0.279}
 ],
 "txt": [
  {"d":"1977-09-09","v":0.252,"t":"NSE = 0.776"},
  {"d":"1979-03-12","v":0.252,"t":"RMSE = 0.009"},
  {"d":"1980-09-08","v":0.252,"t":"PBIAS = -11.9 %"}
 ]
},
"vconcat": [
 {
  "title": "a",
  "width": 606, "height": 94,
  "encoding": {"x": {"field": "d", "type": "temporal", "scale": {"type": "utc", "domain": [{"year":1977,"month":3,"date":11,"utc":true},{"year":1982,"month":3,"date":14,"utc":true}]}, "axis": {"title": null, "labels": false, "values": [{"year":1977,"month":3,"date":11,"utc":true},{"year":1977,"month":8,"date":11,"utc":true},{"year":1978,"month":1,"date":11,"utc":true},{"year":1978,"month":6,"date":13,"utc":true},{"year":1978,"month":11,"date":13,"utc":true},{"year":1979,"month":4,"date":15,"utc":true},{"year":1979,"month":9,"date":15,"utc":true},{"year":1980,"month":2,"date":15,"utc":true},{"year":1980,"month":7,"date":17,"utc":true},{"year":1980,"month":12,"date":17,"utc":true},{"year":1981,"month":5,"date":19,"utc":true},{"year":1981,"month":10,"date":19,"utc":true}]}}},
  "layer": [
   {"data": {"name": "p"}, "mark": {"type": "bar", "width": 1},
    "encoding": {
     "y": {"field": "v", "type": "quantitative", "scale": {"domain": [0, 142.71], "reverse": true, "nice": false}, "axis": {"title": "Precipitation (mm/day)", "values": [0, 47.57, 95.14, 142.71], "labelExpr": "datum.value == 0 ? '0' : format(datum.value, '.2f')"}},
     "color": {"datum": "Precipitation", "type": "nominal", "scale": {"domain": ["Precipitation", "Snow"], "range": ["#1414f0", "#5cf25c"]}, "legend": {"title": null, "orient": "none", "legendX": 513, "legendY": 50, "symbolType": "M-1,-0.45H1V0.45H-1Z", "symbolSize": 200, "symbolStrokeWidth": 0, "rowPadding": -5}}
    }},
   {"data": {"name": "s"}, "mark": {"type": "bar", "width": 1},
    "encoding": {
     "y": {"field": "v", "type": "quantitative", "scale": {"domain": [0, 142.71], "nice": false}, "axis": {"orient": "right", "title": "Snow (mm)", "titleColor": "#3cdc3c", "titleAngle": 270, "values": [0, 47.57, 95.14, 142.71], "labelExpr": "datum.value == 0 ? '0' : format(datum.value, '.2f')"}},
     "color": {"datum": "Snow", "type": "nominal", "legend": {"title": null, "orient": "none", "legendX": 513, "legendY": 50, "symbolType": "M-1,-0.45H1V0.45H-1Z", "symbolSize": 200, "symbolStrokeWidth": 0, "rowPadding": -5}}
    }}
  ],
  "resolve": {"scale": {"y": "independent"}, "axis": {"y": "independent"}}
 },
 {
  "title": "b",
  "width": 606, "height": 94,
  "encoding": {
   "x": {"field": "d", "type": "temporal", "scale": {"type": "utc", "domain": [{"year":1977,"month":3,"date":11,"utc":true},{"year":1982,"month":3,"date":14,"utc":true}]}, "axis": {"title": null, "labels": false, "values": [{"year":1977,"month":3,"date":11,"utc":true},{"year":1977,"month":8,"date":11,"utc":true},{"year":1978,"month":1,"date":11,"utc":true},{"year":1978,"month":6,"date":13,"utc":true},{"year":1978,"month":11,"date":13,"utc":true},{"year":1979,"month":4,"date":15,"utc":true},{"year":1979,"month":9,"date":15,"utc":true},{"year":1980,"month":2,"date":15,"utc":true},{"year":1980,"month":7,"date":17,"utc":true},{"year":1980,"month":12,"date":17,"utc":true},{"year":1981,"month":5,"date":19,"utc":true},{"year":1981,"month":10,"date":19,"utc":true}]}},
   "y": {"field": "v", "type": "quantitative", "scale": {"domain": [0, 7], "nice": false}, "axis": {"title": "Evapotranspiration [mm/day]", "values": [0, 2, 4, 6]}}
  },
  "layer": [
   {"data": {"name": "et"}, "mark": {"type": "line", "strokeWidth": 1},
    "encoding": {"color": {"datum": "Simulated ET", "type": "nominal", "scale": {"domain": ["Simulated ET", "Potential ET"], "range": ["#ff0000", "#000000"]},
     "legend": {"title": null, "orient": "none", "legendX": 496, "legendY": 11, "encoding": {"symbols": {"shape": {"value": {"expr": "datum.value == 'Potential ET' ? 'circle' : 'stroke'"}}, "size": {"value": {"expr": "datum.value == 'Potential ET' ? 6 : 160"}}, "fill": {"value": {"expr": "datum.value == 'Potential ET' ? '#000000' : 'transparent'"}}, "strokeWidth": {"value": {"expr": "datum.value == 'Potential ET' ? 0 : 1.5"}}}}}}}},
   {"data": {"name": "pet"}, "mark": {"type": "rule", "strokeWidth": 3, "strokeCap": "butt"},
    "encoding": {"x2": {"field": "e"}, "color": {"datum": "Potential ET", "type": "nominal",
     "legend": {"title": null, "orient": "none", "legendX": 496, "legendY": 11, "encoding": {"symbols": {"shape": {"value": {"expr": "datum.value == 'Potential ET' ? 'circle' : 'stroke'"}}, "size": {"value": {"expr": "datum.value == 'Potential ET' ? 6 : 160"}}, "fill": {"value": {"expr": "datum.value == 'Potential ET' ? '#000000' : 'transparent'"}}, "strokeWidth": {"value": {"expr": "datum.value == 'Potential ET' ? 0 : 1.5"}}}}}}}}
  ]
 },
 {
  "title": "c",
  "width": 606, "height": 94,
  "encoding": {
   "x": {"field": "d", "type": "temporal", "scale": {"type": "utc", "domain": [{"year":1977,"month":3,"date":11,"utc":true},{"year":1982,"month":3,"date":14,"utc":true}]}, "axis": {"title": null, "labelAngle": -45, "labelFontSize": 7, "format": "%d-%b-%Y", "values": [{"year":1977,"month":3,"date":11,"utc":true},{"year":1977,"month":8,"date":11,"utc":true},{"year":1978,"month":1,"date":11,"utc":true},{"year":1978,"month":6,"date":13,"utc":true},{"year":1978,"month":11,"date":13,"utc":true},{"year":1979,"month":4,"date":15,"utc":true},{"year":1979,"month":9,"date":15,"utc":true},{"year":1980,"month":2,"date":15,"utc":true},{"year":1980,"month":7,"date":17,"utc":true},{"year":1980,"month":12,"date":17,"utc":true},{"year":1981,"month":5,"date":19,"utc":true},{"year":1981,"month":10,"date":19,"utc":true}]}},
   "y": {"field": "v", "type": "quantitative", "scale": {"domain": [0, 0.28], "nice": false}, "axis": {"title": "Streamflow [m³/s]", "values": [0, 0.05, 0.1, 0.15, 0.2, 0.25], "format": "~g"}}
  },
  "layer": [
   {"data": {"name": "q"}, "mark": {"type": "line", "strokeWidth": 1},
    "encoding": {"color": {"datum": "Simulations", "type": "nominal", "scale": {"domain": ["Simulations", "Observations"], "range": ["#ff0000", "#2a2aff"]},
     "legend": {"title": null, "orient": "none", "legendX": 441, "legendY": 25, "encoding": {"symbols": {"shape": {"value": {"expr": "datum.value == 'Observations' ? 'circle' : 'stroke'"}}, "size": {"value": {"expr": "datum.value == 'Observations' ? 4 : 160"}}, "fill": {"value": {"expr": "datum.value == 'Observations' ? '#2a2aff' : 'transparent'"}}, "strokeWidth": {"value": {"expr": "datum.value == 'Observations' ? 0 : 1.5"}}}}}}}},
   {"data": {"name": "o"}, "mark": {"type": "point", "filled": true, "size": 5, "opacity": 0.9},
    "encoding": {"color": {"datum": "Observations", "type": "nominal",
     "legend": {"title": null, "orient": "none", "legendX": 441, "legendY": 25, "encoding": {"symbols": {"shape": {"value": {"expr": "datum.value == 'Observations' ? 'circle' : 'stroke'"}}, "size": {"value": {"expr": "datum.value == 'Observations' ? 4 : 160"}}, "fill": {"value": {"expr": "datum.value == 'Observations' ? '#2a2aff' : 'transparent'"}}, "strokeWidth": {"value": {"expr": "datum.value == 'Observations' ? 0 : 1.5"}}}}}}}},
   {"data": {"name": "txt"}, "mark": {"type": "text", "align": "left", "baseline": "middle", "fontSize": 7.5, "fontWeight": "bold", "font": "Liberation Sans", "color": "#000"},
    "encoding": {"text": {"field": "t"}}}
  ]
 }
]
}
